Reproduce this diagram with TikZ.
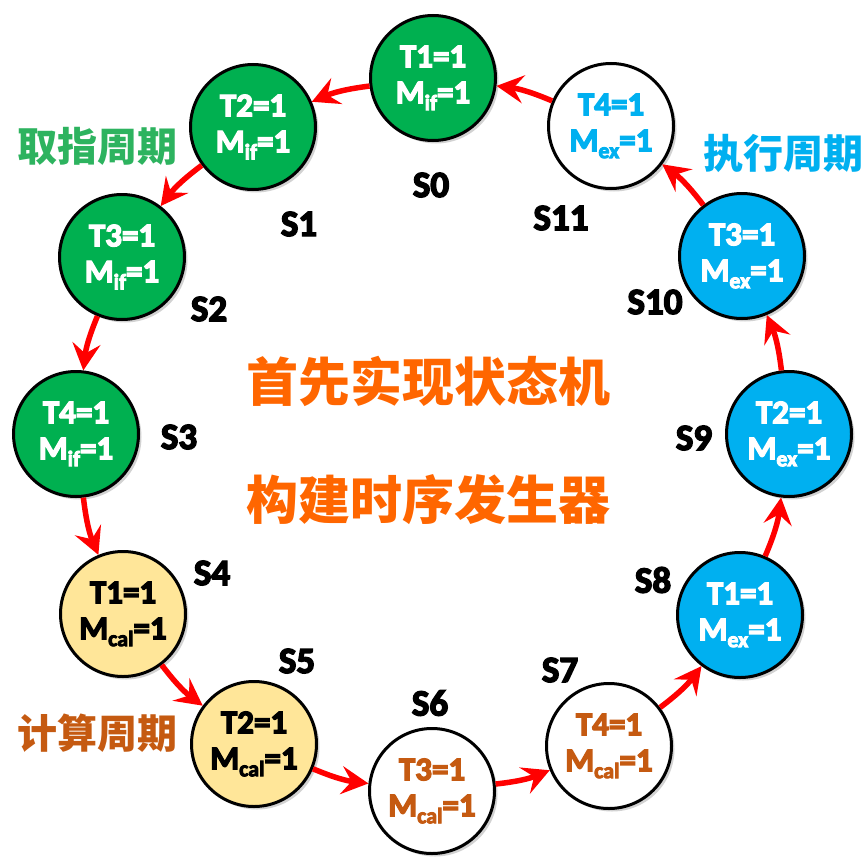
\documentclass[tikz,border=0pt]{standalone}
\usepackage{fontspec}
\setmainfont{Carlito}
\newfontfamily\heavy{Carlito}[BoldFeatures={FakeBold=4}]
\newfontfamily\cjk{Noto Sans CJK SC}
\usetikzlibrary{arrows.meta,shadows}
\definecolor{cgreen}{HTML}{00B050}
\definecolor{lgreen}{HTML}{2DB35F}
\definecolor{cblue}{HTML}{00B0F0}
\definecolor{cyellow}{HTML}{FFE699}
\definecolor{cbrown}{HTML}{C55A11}
\definecolor{corange}{HTML}{FF6600}
\newcommand{\mysub}[1]{\raisebox{-7pt}{\fontsize{22}{22}\selectfont #1}}
\tikzset{
  state/.style={circle, draw=black, line width=3pt, minimum size=125pt, inner sep=0pt,
    align=center, font=\heavy\bfseries\fontsize{33}{36}\selectfont,
    drop shadow={shadow xshift=3pt, shadow yshift=-3pt, opacity=0.35}},
  slabel/.style={font=\heavy\bfseries\fontsize{37}{37}\selectfont, text=black},
  arr/.style={draw=red, line width=5.5pt, -{Stealth[length=27pt,width=28pt,inset=10pt]}},
  cyc/.style={font=\cjk\bfseries\fontsize{40}{40}\selectfont},
  big/.style={font=\cjk\bfseries\fontsize{52}{52}\selectfont, text=corange}
}
\begin{document}
\begin{tikzpicture}[x=1pt,y=-1pt]
\useasboundingbox[fill=white] (0,0) rectangle (867,867);
% states
\node[state, fill=cgreen, text=white] (s0) at (433,78) {T1=1\\M\mysub{if}=1};
\node[state, fill=cgreen, text=white] (s1) at (253,127) {T2=1\\M\mysub{if}=1};
\node[state, fill=cgreen, text=white] (s2) at (122,257) {T3=1\\M\mysub{if}=1};
\node[state, fill=cgreen, text=white] (s3) at (76,434) {T4=1\\M\mysub{if}=1};
\node[state, fill=cyellow, text=black] (s4) at (123,614) {T1=1\\M\mysub{cal}=1};
\node[state, fill=cyellow, text=black] (s5) at (254,744) {T2=1\\M\mysub{cal}=1};
\node[state, fill=white, text=cbrown] (s6) at (432,791) {T3=1\\M\mysub{cal}=1};
\node[state, fill=white, text=cbrown] (s7) at (609,746) {T4=1\\M\mysub{cal}=1};
\node[state, fill=cblue, text=white] (s8) at (740,615) {T1=1\\M\mysub{ex}=1};
\node[state, fill=cblue, text=white] (s9) at (789,434) {T2=1\\M\mysub{ex}=1};
\node[state, fill=cblue, text=white] (s10) at (742,256) {T3=1\\M\mysub{ex}=1};
\node[state, fill=white, text=cblue] (s11) at (611,126) {T4=1\\M\mysub{ex}=1};
% arrows
\draw[arr] (s0) to[bend right=8] (s1);
\draw[arr] (s1) to[bend right=8] (s2);
\draw[arr] (s2) to[bend right=8] (s3);
\draw[arr] (s3) to[bend right=8] (s4);
\draw[arr] (s4) to[bend right=8] (s5);
\draw[arr] (s5) to[bend right=8] (s6);
\draw[arr] (s6) to[bend right=8] (s7);
\draw[arr] (s7) to[bend right=8] (s8);
\draw[arr] (s8) to[bend right=8] (s9);
\draw[arr] (s9) to[bend right=8] (s10);
\draw[arr] (s10) to[bend right=8] (s11);
\draw[arr] (s11) to[bend right=8] (s0);
% state labels
\node[slabel] (l0) at (431,185) {S0};
\node[slabel] (l1) at (299,224) {S1};
\node[slabel] (l2) at (209,309) {S2};
\node[slabel] (l3) at (179,437) {S3};
\node[slabel] (l4) at (212,573) {S4};
\node[slabel] (l5) at (297,661) {S5};
\node[slabel] (l6) at (430,703) {S6};
\node[slabel] (l7) at (560,670) {S7};
\node[slabel] (l8) at (653,580) {S8};
\node[slabel] (l9) at (694,438) {S9};
\node[slabel] (l10) at (655,302) {S10};
\node[slabel] (l11) at (561,218) {S11};
% cycle labels
\node[cyc, text=lgreen] (c1) at (97,146) {取指周期};
\node[cyc, text=cblue] (c2) at (783,153) {执行周期};
\node[cyc, text=cbrown] (c3) at (97,733) {计算周期};
% centre text
\node[big] (t1) at (428,381) {首先实现状态机};
\node[big] (t2) at (428,500) {构建时序发生器};
\end{tikzpicture}
\end{document}
